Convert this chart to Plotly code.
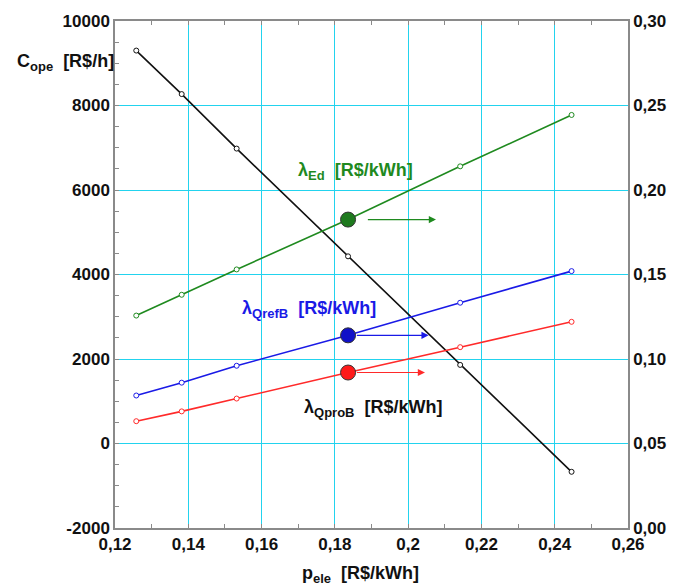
import plotly.graph_objects as go

# ---- data ----
p_ele = [0.1258, 0.1382, 0.1532, 0.1836, 0.2142, 0.2446]
c_ope = [9300, 8270, 6980, 4430, 1860, -670]
lam_ed = [0.1257, 0.1380, 0.1530, 0.1825, 0.2140, 0.2444]
lam_qrefb = [0.0784, 0.0860, 0.0960, 0.1140, 0.1333, 0.1520]
lam_qprob = [0.0632, 0.0690, 0.0766, 0.0920, 0.1070, 0.1220]
hl = 3  # highlighted point index

x_ticks = [0.12, 0.14, 0.16, 0.18, 0.20, 0.22, 0.24, 0.26]
x_ticktext = ["0,12", "0,14", "0,16", "0,18", "0,2", "0,22", "0,24", "0,26"]
y_ticks = [-2000, 0, 2000, 4000, 6000, 8000, 10000]
y_ticktext = ["-2000", "0", "2000", "4000", "6000", "8000", "10000"]
y2_ticks = [0.0, 0.05, 0.10, 0.15, 0.20, 0.25, 0.30]
y2_ticktext = ["0,00", "0,05", "0,10", "0,15", "0,20", "0,25", "0,30"]

GREEN = "#1f8a1f"
BLUE = "#1a1ae6"
RED = "#ff2a2a"
BLACK = "#111111"
GRID = "#22d3ee"
AX = "#8a8a8a"
FONT = "Liberation Sans"

W, H = 683, 588
ml, mr, mt, mb = 115, 55, 15, 60
pw, ph = W - ml - mr, H - mt - mb

fig = go.Figure()

def line(y, color, axis):
    fig.add_trace(go.Scatter(
        x=p_ele, y=y, yaxis=axis, mode="lines+markers",
        line=dict(color=color, width=1.6),
        marker=dict(symbol="circle", size=5, color="white",
                    line=dict(color=color, width=1)),
        showlegend=False, hoverinfo="skip"))

line(c_ope, BLACK, "y")
line(lam_ed, GREEN, "y2")
line(lam_qrefb, BLUE, "y2")
line(lam_qprob, RED, "y2")

# big highlighted markers
for y, color in [(lam_ed, "#1e7a1e"), (lam_qrefb, "#1010c8"), (lam_qprob, "#ff1a1a")]:
    fig.add_trace(go.Scatter(
        x=[p_ele[hl]], y=[y[hl]], yaxis="y2", mode="markers",
        marker=dict(size=15, color=color, line=dict(color="#333333", width=1)),
        showlegend=False, hoverinfo="skip"))

annotations = []
# arrows pointing to right axis
for y, color, x0, x1 in [(lam_ed, GREEN, 0.005, 0.024),
                         (lam_qrefb, BLUE, 0.002, 0.022),
                         (lam_qprob, RED, 0.002, 0.021)]:
    annotations.append(dict(
        x=p_ele[hl] + x1, y=y[hl], xref="x", yref="y2",
        ax=p_ele[hl] + x0, ay=y[hl], axref="x", ayref="y2",
        showarrow=True, arrowhead=2, arrowsize=1.2, arrowwidth=1.2,
        arrowcolor=color, text=""))

def lab(x, y, sub, color):
    return dict(x=x, y=y, xref="x", yref="y2", xanchor="left", yanchor="middle",
                showarrow=False,
                text=("<b>λ<sub><span style='font-size:13px'>%s</span></sub>"
                      "  [R$/kWh]</b>") % sub,
                font=dict(family=FONT, size=18, color=color))

annotations += [
    lab(0.1695, 0.2111, "Ed", GREEN),
    lab(0.1540, 0.1292, "QrefB", BLUE),
    lab(0.1711, 0.0708, "QproB", BLACK),
    dict(x=(15 - ml) / pw, y=1 - (57 - mt) / ph, xref="paper", yref="paper",
         xanchor="left", yanchor="middle", showarrow=False,
         text="<b>C<sub><span style='font-size:13px'>ope</span></sub>  [R$/h]</b>",
         font=dict(family=FONT, size=18, color=BLACK)),
    dict(x=(360 - ml) / pw, y=-(575 - mt - ph) / ph, xref="paper", yref="paper",
         xanchor="center", yanchor="middle", showarrow=False,
         text="<b>p<sub><span style='font-size:13px'>ele</span></sub>  [R$/kWh]</b>",
         font=dict(family=FONT, size=18, color=BLACK)),
]

tickfont = dict(family=FONT, size=17, color=BLACK, weight="bold")

fig.update_layout(
    width=W, height=H,
    margin=dict(l=ml, r=mr, t=mt, b=mb),
    paper_bgcolor="white", plot_bgcolor="white",
    annotations=annotations,
    xaxis=dict(range=[0.12, 0.26], tickvals=x_ticks, ticktext=x_ticktext,
               showgrid=True, gridcolor=GRID, gridwidth=1.2,
               showline=True, linecolor=AX, linewidth=1.5, mirror="ticks",
               ticks="inside", ticklen=0, tickcolor=AX,
               minor=dict(dtick=0.01, ticks="inside", ticklen=4, tickcolor=AX, showgrid=False),
               tickfont=tickfont, zeroline=False),
    yaxis=dict(range=[-2000, 10000], tickvals=y_ticks, ticktext=y_ticktext,
               showgrid=True, gridcolor=GRID, gridwidth=1.2,
               showline=True, linecolor=AX, linewidth=1.5,
               ticks="inside", ticklen=0, tickcolor=AX,
               minor=dict(dtick=500, ticks="inside", ticklen=4, tickcolor=AX, showgrid=False),
               tickfont=tickfont, zeroline=False),
    yaxis2=dict(range=[0, 0.30], tickvals=y2_ticks, ticktext=y2_ticktext,
                overlaying="y", side="right", showgrid=False,
                showline=True, linecolor=AX, linewidth=1.5,
                ticks="", tickfont=tickfont, zeroline=False),
)

fig.write_html("out.html")
